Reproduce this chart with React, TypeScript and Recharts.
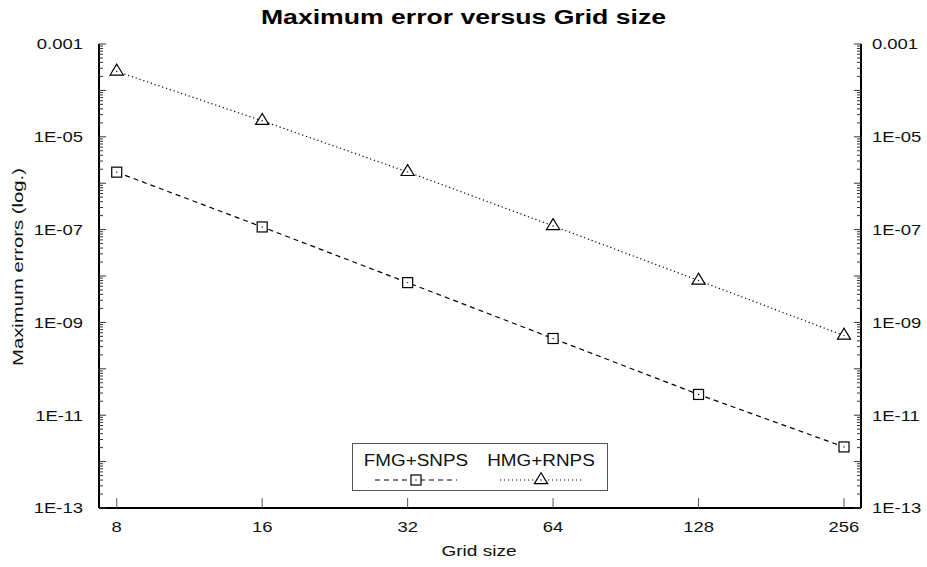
import { LineChart, Line, XAxis, YAxis, Legend } from "recharts"

const gridSizes = [8, 16, 32, 64, 128, 256]
const fmgSnps = [1.73e-6, 1.14e-7, 7.2e-9, 4.5e-10, 2.8e-11, 2.07e-12]
const hmgRnps = [2.56e-4, 2.21e-5, 1.75e-6, 1.2e-7, 8.0e-9, 5.2e-10]

const yLabelValues = [1e-3, 1e-5, 1e-7, 1e-9, 1e-11, 1e-13]
const yTickLabels = ["0.001", "1E-05", "1E-07", "1E-09", "1E-11", "1E-13"]
const decadeStarts = [1e-13, 1e-12, 1e-11, 1e-10, 1e-9, 1e-8, 1e-7, 1e-6, 1e-5, 1e-4]
const minorSteps = [1, 2, 3, 4, 5, 6, 7, 8, 9]

const yTicks = [...decadeStarts.flatMap((d) => minorSteps.map((m) => m * d)), 1e-3]

const data = gridSizes.map((size, i) => ({ size, fmg: fmgSnps[i], hmg: hmgRnps[i] }))

const font = "'Liberation Sans', Arial, Helvetica, sans-serif"

const isDecade = (v: number) => {
  const l = Math.log10(v)
  return Math.abs(l - Math.round(l)) < 1e-6
}

const labelFor = (v: number) => {
  const i = yLabelValues.findIndex((m) => Math.abs(v / m - 1) < 1e-6)
  return i >= 0 ? yTickLabels[i] : null
}

// text drawn a bit wider than the font, like the original export
function WideText({ x, y, anchor, size = 15, sx = 1.23, rotate = 0, children }: any) {
  return (
    <text
      transform={`translate(${x},${y}) rotate(${rotate}) scale(${sx},1)`}
      textAnchor={anchor}
      fontSize={size}
      fontFamily={font}
      fill="#111"
    >
      {children}
    </text>
  )
}

function LeftTick({ x, y, payload }: any) {
  const v = payload.value
  const len = isDecade(v) ? 7 : 4
  const label = labelFor(v)
  return (
    <g>
      <line x1={x} x2={x + len} y1={y} y2={y} stroke="#333" strokeWidth={1} />
      {label && (
        <WideText x={x - 16} y={y + 5.4} anchor="end">
          {label}
        </WideText>
      )}
    </g>
  )
}

function RightTick({ x, y, payload }: any) {
  const v = payload.value
  const len = isDecade(v) ? 7 : 4
  const label = labelFor(v)
  return (
    <g>
      <line x1={x} x2={x - len} y1={y} y2={y} stroke="#333" strokeWidth={1} />
      {label && (
        <WideText x={x + 11} y={y + 5.4} anchor="start">
          {label}
        </WideText>
      )}
    </g>
  )
}

function BottomTick({ x, y, payload }: any) {
  return (
    <g>
      <line x1={x} x2={x} y1={y} y2={y - 10} stroke="#555" strokeWidth={1} />
      <WideText x={x} y={y + 24} anchor="middle">
        {payload.value}
      </WideText>
    </g>
  )
}

function SquareDot({ cx, cy }: any) {
  if (cx == null || cy == null) return null
  return (
    <g>
      <rect x={cx - 5} y={cy - 5} width={10} height={10} fill="#fff" stroke="#000" strokeWidth={1.2} />
      <circle cx={cx} cy={cy} r={0.7} fill="#000" />
    </g>
  )
}

function TriangleDot({ cx, cy }: any) {
  if (cx == null || cy == null) return null
  return (
    <g>
      <polygon
        points={`${cx},${cy - 7.3} ${cx - 6.6},${cy + 3.6} ${cx + 6.6},${cy + 3.6}`}
        fill="#fff"
        stroke="#000"
        strokeWidth={1.2}
      />
      <circle cx={cx} cy={cy} r={0.7} fill="#000" />
    </g>
  )
}

function LegendBox() {
  const items = [
    { name: "FMG+SNPS", dash: "5 4", dot: "square", left: 3 },
    { name: "HMG+RNPS", dash: "1.2 2.8", dot: "triangle", left: 128 },
  ]
  return (
    <div style={{ position: "relative", width: 256, height: 48, border: "1px solid #555", boxSizing: "border-box", background: "#fff" }}>
      {items.map((it) => (
        <div key={it.name} style={{ position: "absolute", left: it.left, top: 9, width: 120, textAlign: "center" }}>
          <div
            style={{
              fontFamily: font,
              fontSize: 16,
              lineHeight: "16px",
              color: "#111",
              transform: "scaleX(1.18)",
              whiteSpace: "nowrap",
            }}
          >
            {it.name}
          </div>
          <svg width={82} height={14} style={{ display: "block", margin: "3px auto 0" }}>
            <line x1={0} x2={82} y1={8} y2={8} stroke="#000" strokeWidth={1.2} strokeDasharray={it.dash} />
            {it.dot === "square" ? <SquareDot cx={41} cy={8} /> : <TriangleDot cx={41} cy={8} />}
          </svg>
        </div>
      ))}
    </div>
  )
}

export default function App() {
  return (
    <div style={{ position: "relative", width: 927, height: 567, background: "#fff" }}>
      <style>{"body{margin:0}"}</style>
      <div
        style={{
          position: "absolute",
          top: 6,
          left: 0,
          width: 927,
          textAlign: "center",
          fontFamily: font,
          fontWeight: "bold",
          fontSize: 20,
          color: "#000",
          transform: "scaleX(1.33)",
          whiteSpace: "nowrap",
        }}
      >
        Maximum error versus Grid size
      </div>
      <LineChart width={927} height={567} data={data} margin={{ top: 44, right: 0, bottom: 0, left: 0 }}>
        <XAxis
          dataKey="size"
          type="number"
          scale="log"
          domain={[7.352, 277.6]}
          ticks={gridSizes}
          interval={0}
          allowDataOverflow
          height={59}
          tickSize={0}
          tickMargin={0}
          tickLine={false}
          tick={(p: any) => <BottomTick {...p} />}
          axisLine={{ stroke: "#000", strokeWidth: 2 }}
          label={{
            content: () => (
              <WideText x={479} y={556} anchor="middle" sx={1.27}>
                Grid size
              </WideText>
            ),
          }}
        />
        <XAxis
          xAxisId="top"
          orientation="top"
          dataKey="size"
          type="number"
          scale="log"
          domain={[7.352, 277.6]}
          allowDataOverflow
          height={0}
          tick={false}
          tickLine={false}
          axisLine={{ stroke: "#000", strokeWidth: 2 }}
        />
        <YAxis
          type="number"
          scale="log"
          domain={[1e-13, 1e-3]}
          ticks={yTicks}
          interval={0}
          allowDataOverflow
          width={99}
          tickSize={0}
          tickMargin={0}
          tickLine={false}
          tick={(p: any) => <LeftTick {...p} />}
          axisLine={{ stroke: "#000", strokeWidth: 2 }}
          label={{
            content: () => (
              <WideText x={23} y={267} anchor="middle" rotate={-90} sx={1.35}>
                Maximum errors (log.)
              </WideText>
            ),
          }}
        />
        <YAxis
          yAxisId="right"
          orientation="right"
          type="number"
          scale="log"
          domain={[1e-13, 1e-3]}
          ticks={yTicks}
          interval={0}
          allowDataOverflow
          width={66}
          tickSize={0}
          tickMargin={0}
          tickLine={false}
          tick={(p: any) => <RightTick {...p} />}
          axisLine={{ stroke: "#000", strokeWidth: 2 }}
        />
        <Legend
          layout="horizontal"
          verticalAlign="middle"
          align="center"
          wrapperStyle={{ left: 352, top: 443, width: 256 }}
          content={() => <LegendBox />}
        />
        <Line
          dataKey="fmg"
          name="FMG+SNPS"
          stroke="#000"
          strokeWidth={1.2}
          strokeDasharray="5 4"
          dot={(p: any) => <SquareDot key={`s-${p.index}`} {...p} />}
          isAnimationActive={false}
        />
        <Line
          dataKey="hmg"
          name="HMG+RNPS"
          stroke="#000"
          strokeWidth={1.2}
          strokeDasharray="1.2 2.8"
          dot={(p: any) => <TriangleDot key={`t-${p.index}`} {...p} />}
          isAnimationActive={false}
        />
      </LineChart>
    </div>
  )
}
